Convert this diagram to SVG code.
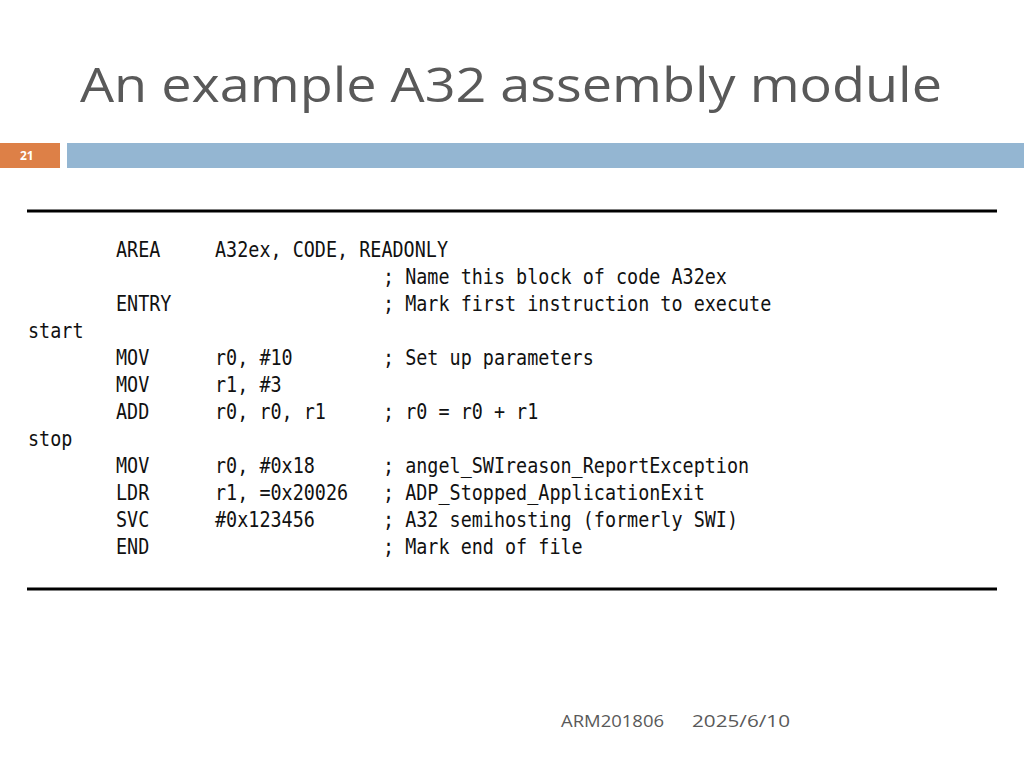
<svg xmlns="http://www.w3.org/2000/svg" width="1024" height="768" viewBox="0 0 1024 768">
<style>
.c{font-family:"DejaVu Sans Mono",monospace;font-size:21px;fill:#111}
.f{font-family:"Open Sans","Liberation Sans",sans-serif;font-size:17px;fill:#595959}
</style>
<rect width="1024" height="768" fill="#fff"/>
<text x="80" y="102" font-family="Open Sans,Liberation Sans,sans-serif" font-size="48" fill="#595959" textLength="862" lengthAdjust="spacingAndGlyphs">An example A32 assembly module</text>
<rect x="0" y="143" width="60" height="25" fill="#dd8047"/>
<text x="20" y="160" font-family="Open Sans,Liberation Sans,sans-serif" font-size="12" font-weight="bold" fill="#fff">21</text>
<rect x="67" y="143" width="957" height="25" fill="#94b6d2"/>
<line x1="27" y1="211" x2="997" y2="211" stroke="#000" stroke-width="3"/>
<line x1="27" y1="589" x2="997" y2="589" stroke="#000" stroke-width="3"/>
<g transform="scale(0.878 1)">
<text class="c" x="132.1" y="257">AREA</text><text class="c" x="244.9" y="257">A32ex, CODE, READONLY</text>
<text class="c" x="436.2" y="284">; Name this block of code A32ex</text>
<text class="c" x="132.1" y="311">ENTRY</text><text class="c" x="436.2" y="311">; Mark first instruction to execute</text>
<text class="c" x="31.9" y="338">start</text>
<text class="c" x="132.1" y="365">MOV</text><text class="c" x="244.9" y="365">r0, #10</text><text class="c" x="436.2" y="365">; Set up parameters</text>
<text class="c" x="132.1" y="392">MOV</text><text class="c" x="244.9" y="392">r1, #3</text>
<text class="c" x="132.1" y="419">ADD</text><text class="c" x="244.9" y="419">r0, r0, r1</text><text class="c" x="436.2" y="419">; r0 = r0 + r1</text>
<text class="c" x="31.9" y="446">stop</text>
<text class="c" x="132.1" y="473">MOV</text><text class="c" x="244.9" y="473">r0, #0x18</text><text class="c" x="436.2" y="473">; angel_SWIreason_ReportException</text>
<text class="c" x="132.1" y="500">LDR</text><text class="c" x="244.9" y="500">r1, =0x20026</text><text class="c" x="436.2" y="500">; ADP_Stopped_ApplicationExit</text>
<text class="c" x="132.1" y="527">SVC</text><text class="c" x="244.9" y="527">#0x123456</text><text class="c" x="436.2" y="527">; A32 semihosting (formerly SWI)</text>
<text class="c" x="132.1" y="554">END</text><text class="c" x="436.2" y="554">; Mark end of file</text>
</g>
<text class="f" x="561" y="727" textLength="103" lengthAdjust="spacingAndGlyphs">ARM201806</text>
<text class="f" x="692" y="727" textLength="98" lengthAdjust="spacingAndGlyphs">2025/6/10</text>
</svg>
